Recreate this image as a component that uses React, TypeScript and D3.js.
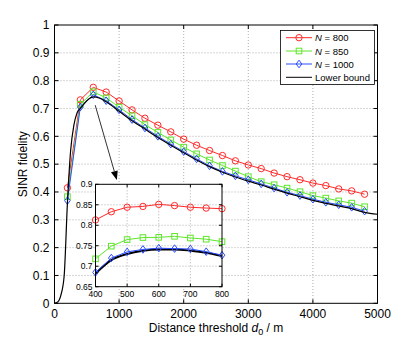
import React, { useEffect, useRef } from "react";
import * as d3 from "d3";

// main curves, sampled every 200 m
const distances = [200, 400, 600, 800, 1000, 1200, 1400, 1600, 1800, 2000, 2200, 2400,
  2600, 2800, 3000, 3200, 3400, 3600, 3800, 4000, 4200, 4400, 4600, 4800];
const n800 = [0.415, 0.731, 0.776, 0.759, 0.727, 0.695, 0.665, 0.640, 0.616, 0.590, 0.568, 0.549,
  0.531, 0.512, 0.497, 0.484, 0.468, 0.455, 0.444, 0.432, 0.423, 0.411, 0.404, 0.392];
const n850 = [0.383, 0.715, 0.760, 0.738, 0.705, 0.674, 0.642, 0.614, 0.587, 0.561, 0.537, 0.515,
  0.495, 0.475, 0.455, 0.437, 0.426, 0.414, 0.401, 0.387, 0.378, 0.368, 0.360, 0.347];
const n1000 = [0.369, 0.705, 0.749, 0.728, 0.695, 0.660, 0.630, 0.600, 0.572, 0.545, 0.519, 0.494,
  0.474, 0.458, 0.4435, 0.429, 0.414, 0.399, 0.387, 0.374, 0.363, 0.354, 0.345, 0.331];

// lower bound is a continuous curve
const boundDistances = [0, 50, 100, 150, 200, 250, 300, 350, 400, 500, 600, 700, 800, 1000, 1200,
  1400, 1600, 1800, 2000, 2200, 2400, 2600, 2800, 3000, 3200, 3400, 3600, 3800, 4000, 4200,
  4400, 4600, 4800, 5000];
const lowerBound = [0, 0.005, 0.03, 0.1, 0.36, 0.55, 0.64, 0.685, 0.70, 0.728, 0.742, 0.737, 0.724,
  0.690, 0.656, 0.626, 0.596, 0.568, 0.541, 0.515, 0.491, 0.471, 0.454, 0.439, 0.425, 0.410,
  0.396, 0.383, 0.370, 0.359, 0.350, 0.340, 0.327, 0.320];

// zoomed inset
const zoomDistances = [400, 450, 500, 550, 600, 650, 700, 750, 800];
const zoomN800 = [0.813, 0.833, 0.844, 0.846, 0.851, 0.848, 0.844, 0.842, 0.8405];
const zoomN850 = [0.718, 0.749, 0.765, 0.770, 0.7705, 0.773, 0.769, 0.766, 0.760];
const zoomN1000 = [0.685, 0.720, 0.735, 0.741, 0.744, 0.743, 0.742, 0.7355, 0.727];
const zoomBound = [0.682, 0.715, 0.730, 0.738, 0.741, 0.741, 0.738, 0.733, 0.725];

const xTicks = [0, 1000, 2000, 3000, 4000, 5000];
const yTicks = [0, 0.1, 0.2, 0.3, 0.4, 0.5, 0.6, 0.7, 0.8, 0.9, 1];
const zoomXTicks = [400, 500, 600, 700, 800];
const zoomYTicks = [0.65, 0.7, 0.75, 0.8, 0.85, 0.9];
const legendNs = ["800", "850", "1000"];

// arrow from the peak down to the inset (data coords)
const arrowFrom = [630, 0.712];
const arrowTo = [965, 0.443];

const FONT = "'Liberation Sans', Arial, Helvetica, sans-serif";
const colours = ["#ff2a2a", "#5ee62a", "#2a4cff"];
const markers = ["circle", "square", "diamond"];

function drawMarker(g, kind, x, y, colour) {
  if (kind === "circle") {
    g.append("circle").attr("cx", x).attr("cy", y).attr("r", 3.2)
      .attr("fill", "none").attr("stroke", colour).attr("stroke-width", 1);
  } else if (kind === "square") {
    g.append("rect").attr("x", x - 2.8).attr("y", y - 2.8).attr("width", 5.6).attr("height", 5.6)
      .attr("fill", "none").attr("stroke", colour).attr("stroke-width", 1);
  } else {
    g.append("path").attr("d", `M${x},${y - 3.8}L${x + 2.8},${y}L${x},${y + 3.8}L${x - 2.8},${y}Z`)
      .attr("fill", "none").attr("stroke", colour).attr("stroke-width", 1);
  }
}

function chart(svgEl) {
  const svg = d3.select(svgEl);
  svg.selectAll("*").remove();

  const box = { left: 54.5, right: 377.5, top: 25, bottom: 303.3 };
  const x = d3.scaleLinear().domain([0, 5000]).range([box.left, box.right]);
  const y = d3.scaleLinear().domain([0, 1]).range([box.bottom, box.top]);

  const grid = svg.append("g").attr("stroke", "#9a9a9a").attr("stroke-width", 0.8)
    .attr("stroke-dasharray", "1,2");
  xTicks.slice(1, -1).forEach(t => {
    grid.append("line").attr("x1", x(t)).attr("x2", x(t)).attr("y1", box.top).attr("y2", box.bottom);
  });
  yTicks.slice(1, -1).forEach(t => {
    grid.append("line").attr("x1", box.left).attr("x2", box.right).attr("y1", y(t)).attr("y2", y(t));
  });

  // ticks, inward on all four sides
  const ticks = svg.append("g").attr("stroke", "#000").attr("stroke-width", 1);
  xTicks.forEach(t => {
    ticks.append("line").attr("x1", x(t)).attr("x2", x(t)).attr("y1", box.bottom).attr("y2", box.bottom - 4);
    ticks.append("line").attr("x1", x(t)).attr("x2", x(t)).attr("y1", box.top).attr("y2", box.top + 4);
  });
  yTicks.forEach(t => {
    ticks.append("line").attr("x1", box.left).attr("x2", box.left + 4).attr("y1", y(t)).attr("y2", y(t));
    ticks.append("line").attr("x1", box.right).attr("x2", box.right - 4).attr("y1", y(t)).attr("y2", y(t));
  });

  const labels = svg.append("g").attr("font-family", FONT).attr("font-size", 12).attr("fill", "#000");
  xTicks.forEach(t => {
    labels.append("text").attr("x", x(t)).attr("y", box.bottom + 15).attr("text-anchor", "middle").text(t);
  });
  yTicks.forEach(t => {
    labels.append("text").attr("x", box.left - 5).attr("y", y(t) + 4.3).attr("text-anchor", "end").text(t);
  });

  const xl = labels.append("text").attr("x", (box.left + box.right) / 2).attr("y", box.bottom + 29)
    .attr("text-anchor", "middle");
  xl.append("tspan").text("Distance threshold ");
  xl.append("tspan").attr("font-style", "italic").text("d");
  xl.append("tspan").attr("font-size", 9).attr("dy", 3).text("0");
  xl.append("tspan").attr("dy", -3).text(" / m");

  labels.append("text").attr("transform", `translate(27,${(box.top + box.bottom) / 2}) rotate(-90)`)
    .attr("text-anchor", "middle").text("SINR fidelity");

  // curves
  const series = [n800, n850, n1000];
  const line = d3.line().x(d => x(d[0])).y(d => y(d[1]));
  series.forEach((vals, i) => {
    const pts = distances.map((d, k) => [d, vals[k]]);
    svg.append("path").attr("d", line(pts)).attr("fill", "none")
      .attr("stroke", colours[i]).attr("stroke-width", 1);
    const mg = svg.append("g");
    pts.forEach(p => drawMarker(mg, markers[i], x(p[0]), y(p[1]), colours[i]));
  });
  svg.append("path")
    .attr("d", d3.line().x(d => x(d[0])).y(d => y(d[1])).curve(d3.curveMonotoneX)(boundDistances.map((d, k) => [d, lowerBound[k]])))
    .attr("fill", "none").attr("stroke", "#000").attr("stroke-width", 1.2);

  svg.append("rect").attr("x", box.left).attr("y", box.top)
    .attr("width", box.right - box.left).attr("height", box.bottom - box.top)
    .attr("fill", "none").attr("stroke", "#000").attr("stroke-width", 1);

  // arrow
  const ax1 = x(arrowFrom[0]), ay1 = y(arrowFrom[1]);
  const ax2 = x(arrowTo[0]), ay2 = y(arrowTo[1]);
  const ang = Math.atan2(ay2 - ay1, ax2 - ax1);
  const hl = 9, hw = 3.5;
  const bx = ax2 - hl * Math.cos(ang), by = ay2 - hl * Math.sin(ang);
  svg.append("line").attr("x1", ax1).attr("y1", ay1).attr("x2", bx).attr("y2", by)
    .attr("stroke", "#333").attr("stroke-width", 1);
  svg.append("path")
    .attr("d", `M${ax2},${ay2}L${bx + hw * Math.sin(ang)},${by - hw * Math.cos(ang)}L${bx - hw * Math.sin(ang)},${by + hw * Math.cos(ang)}Z`)
    .attr("fill", "#000");

  // inset
  const ib = { left: 95.5, right: 222, top: 184.3, bottom: 286.7 };
  const zx = d3.scaleLinear().domain([400, 800]).range([ib.left, ib.right]);
  const zy = d3.scaleLinear().domain([0.65, 0.9]).range([ib.bottom, ib.top]);
  const inset = svg.append("g");
  inset.append("rect").attr("x", ib.left).attr("y", ib.top)
    .attr("width", ib.right - ib.left).attr("height", ib.bottom - ib.top).attr("fill", "#fff");
  const zgrid = inset.append("g").attr("stroke", "#9a9a9a").attr("stroke-width", 0.8)
    .attr("stroke-dasharray", "1,2");
  zoomXTicks.slice(1, -1).forEach(t => {
    zgrid.append("line").attr("x1", zx(t)).attr("x2", zx(t)).attr("y1", ib.top).attr("y2", ib.bottom);
  });
  zoomYTicks.slice(1, -1).forEach(t => {
    zgrid.append("line").attr("x1", ib.left).attr("x2", ib.right).attr("y1", zy(t)).attr("y2", zy(t));
  });
  const zt = inset.append("g").attr("stroke", "#000").attr("stroke-width", 1);
  zoomXTicks.forEach(t => {
    zt.append("line").attr("x1", zx(t)).attr("x2", zx(t)).attr("y1", ib.bottom).attr("y2", ib.bottom - 3);
    zt.append("line").attr("x1", zx(t)).attr("x2", zx(t)).attr("y1", ib.top).attr("y2", ib.top + 3);
  });
  zoomYTicks.forEach(t => {
    zt.append("line").attr("x1", ib.left).attr("x2", ib.left + 3).attr("y1", zy(t)).attr("y2", zy(t));
    zt.append("line").attr("x1", ib.right).attr("x2", ib.right - 3).attr("y1", zy(t)).attr("y2", zy(t));
  });
  const zl = inset.append("g").attr("font-family", FONT).attr("font-size", 8.5).attr("fill", "#000");
  zoomXTicks.forEach(t => {
    zl.append("text").attr("x", zx(t)).attr("y", ib.bottom + 10).attr("text-anchor", "middle").text(t);
  });
  zoomYTicks.forEach(t => {
    zl.append("text").attr("x", ib.left - 3).attr("y", zy(t) + 3).attr("text-anchor", "end").text(t);
  });
  const zline = d3.line().x(d => zx(d[0])).y(d => zy(d[1]));
  inset.append("path").attr("d", d3.line().x(d => zx(d[0])).y(d => zy(d[1])).curve(d3.curveMonotoneX)(zoomDistances.map((d, k) => [d, zoomBound[k]])))
    .attr("fill", "none").attr("stroke", "#000").attr("stroke-width", 2);
  [zoomN800, zoomN850, zoomN1000].forEach((vals, i) => {
    const pts = zoomDistances.map((d, k) => [d, vals[k]]);
    inset.append("path").attr("d", zline(pts)).attr("fill", "none")
      .attr("stroke", colours[i]).attr("stroke-width", 1);
    const mg = inset.append("g");
    pts.forEach(p => drawMarker(mg, markers[i], zx(p[0]), zy(p[1]), colours[i]));
  });
  inset.append("rect").attr("x", ib.left).attr("y", ib.top)
    .attr("width", ib.right - ib.left).attr("height", ib.bottom - ib.top)
    .attr("fill", "none").attr("stroke", "#000").attr("stroke-width", 1);

  // legend
  const lg = svg.append("g");
  lg.append("rect").attr("x", 280.5).attr("y", 30.5).attr("width", 94).attr("height", 54)
    .attr("fill", "#fff").attr("stroke", "#000").attr("stroke-width", 0.8);
  const rowY = [37.7, 51, 64, 77.3];
  legendNs.forEach((n, i) => {
    lg.append("line").attr("x1", 286).attr("x2", 312).attr("y1", rowY[i]).attr("y2", rowY[i])
      .attr("stroke", colours[i]).attr("stroke-width", 1);
    drawMarker(lg, markers[i], 299, rowY[i], colours[i]);
    const t = lg.append("text").attr("x", 315).attr("y", rowY[i] + 3.5)
      .attr("font-family", FONT).attr("font-size", 9.5);
    t.append("tspan").attr("font-style", "italic").text("N");
    t.append("tspan").text(` = ${n}`);
  });
  lg.append("line").attr("x1", 286).attr("x2", 312).attr("y1", rowY[3]).attr("y2", rowY[3])
    .attr("stroke", "#000").attr("stroke-width", 1);
  lg.append("text").attr("x", 315).attr("y", rowY[3] + 3.5)
    .attr("font-family", FONT).attr("font-size", 9.5).text("Lower bound");
}

export default function App() {
  const ref = useRef(null);
  useEffect(() => {
    chart(ref.current);
  }, []);
  return (
    <svg ref={ref} width={417} height={342}
      style={{ position: "absolute", left: 0, top: 0, background: "#fff" }} />
  );
}
